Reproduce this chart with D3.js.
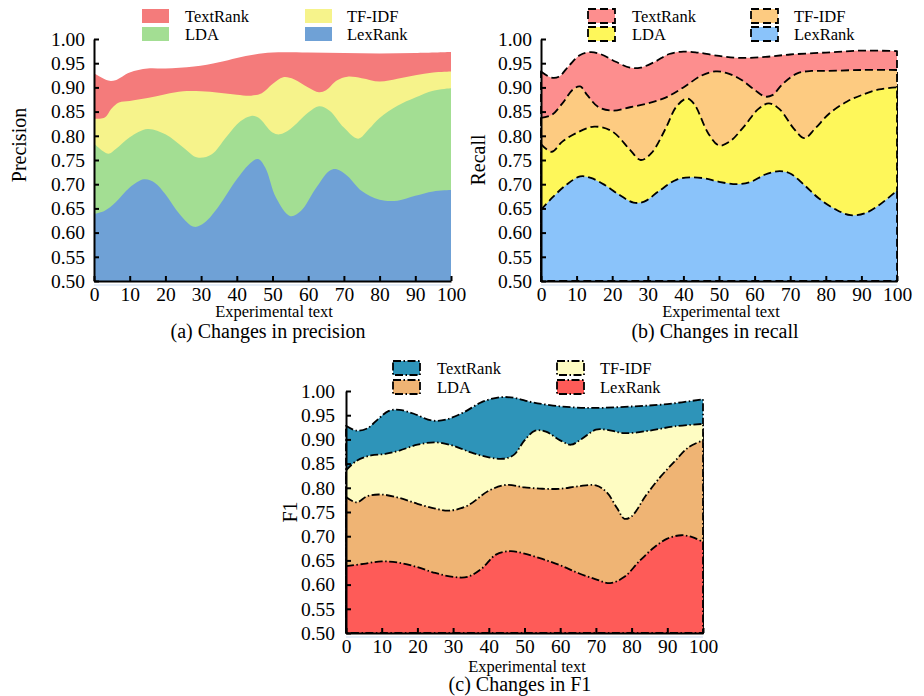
<!DOCTYPE html>
<html>
<head>
<meta charset="utf-8">
<script src="https://cdn.jsdelivr.net/npm/d3@7"></script>
<style>
  html, body { margin: 0; padding: 0; background: #fff; }
  svg { display: block; font-family: "Liberation Serif", "Times New Roman", serif; }
</style>
</head>
<body>
<svg id="chart" width="924" height="696"></svg>
<script>
// ---- data -------------------------------------------------------------
const methods = ["TextRank", "TF-IDF", "LDA", "LexRank"];
const xTickValues = [0, 10, 20, 30, 40, 50, 60, 70, 80, 90, 100];
const yTickValues = [0.50, 0.55, 0.60, 0.65, 0.70, 0.75, 0.80, 0.85, 0.90, 0.95, 1.00];

// Precision, [experimental text, score]
const precisionTextRank = [[0,0.929],[4,0.914],[6,0.915],[10,0.931],[15,0.939],[20,0.939],[28,0.943],[35,0.952],[40,0.961],[45,0.968],[50,0.972],[60,0.972],[70,0.971],[80,0.970],[90,0.971],[100,0.973]];
const precisionTFIDF = [[0,0.835],[3,0.838],[5,0.857],[7,0.869],[10,0.872],[15,0.878],[20,0.886],[25,0.892],[30,0.892],[35,0.889],[40,0.885],[44,0.883],[47,0.888],[50,0.907],[53,0.921],[56,0.917],[60,0.900],[63,0.890],[65,0.894],[68,0.914],[71,0.922],[75,0.919],[80,0.912],[85,0.918],[90,0.925],[95,0.931],[100,0.933]];
const precisionLDA = [[0,0.784],[4,0.763],[6,0.772],[10,0.797],[15,0.814],[20,0.803],[25,0.776],[29,0.755],[33,0.762],[37,0.797],[41,0.830],[44,0.841],[46,0.838],[50,0.807],[52,0.803],[55,0.814],[60,0.848],[63,0.861],[66,0.852],[70,0.817],[74,0.794],[77,0.814],[80,0.837],[85,0.862],[90,0.879],[95,0.893],[100,0.898]];
const precisionLexRank = [[0,0.638],[3,0.645],[6,0.662],[10,0.693],[14,0.710],[17,0.703],[20,0.679],[24,0.638],[28,0.612],[31,0.621],[35,0.655],[40,0.710],[44,0.745],[46,0.752],[48,0.734],[51,0.672],[55,0.634],[58,0.645],[62,0.690],[66,0.728],[68,0.731],[71,0.717],[75,0.686],[80,0.668],[85,0.666],[90,0.676],[95,0.685],[100,0.688]];

// Recall
const recallTextRank = [[0,0.933],[3,0.920],[5,0.922],[8,0.946],[11,0.967],[14,0.973],[17,0.968],[21,0.953],[25,0.941],[28,0.941],[32,0.953],[36,0.969],[40,0.974],[44,0.972],[50,0.965],[56,0.961],[63,0.963],[70,0.968],[80,0.972],[90,0.976],[100,0.975]];
const recallTFIDF = [[0,0.837],[3,0.843],[6,0.867],[9,0.896],[11,0.902],[13,0.884],[16,0.860],[20,0.852],[25,0.859],[30,0.867],[35,0.879],[40,0.900],[45,0.924],[49,0.933],[52,0.930],[56,0.917],[60,0.895],[63,0.881],[65,0.884],[68,0.908],[72,0.929],[76,0.934],[80,0.934],[90,0.936],[100,0.936]];
const recallLDA = [[0,0.783],[3,0.767],[6,0.788],[10,0.806],[15,0.819],[20,0.809],[25,0.771],[28,0.750],[31,0.764],[35,0.815],[38,0.860],[41,0.877],[43,0.866],[47,0.805],[50,0.780],[53,0.788],[57,0.819],[61,0.855],[64,0.867],[67,0.855],[71,0.815],[74,0.795],[77,0.815],[81,0.846],[86,0.871],[90,0.884],[95,0.896],[100,0.900]];
const recallLexRank = [[0,0.647],[3,0.671],[7,0.698],[11,0.716],[14,0.713],[18,0.698],[22,0.678],[26,0.662],[29,0.664],[33,0.685],[38,0.709],[42,0.714],[46,0.712],[50,0.705],[55,0.700],[59,0.705],[63,0.720],[67,0.727],[70,0.722],[74,0.698],[78,0.671],[83,0.647],[87,0.636],[91,0.640],[95,0.657],[100,0.687]];

// F1
const f1TextRank = [[0,0.928],[3,0.918],[6,0.923],[9,0.942],[12,0.959],[15,0.961],[19,0.953],[24,0.939],[28,0.941],[33,0.956],[38,0.977],[43,0.987],[47,0.986],[52,0.977],[58,0.970],[64,0.966],[70,0.965],[80,0.968],[90,0.973],[100,0.983]];
const f1TFIDF = [[0,0.836],[3,0.856],[7,0.867],[11,0.870],[15,0.877],[20,0.889],[25,0.894],[30,0.887],[35,0.873],[40,0.863],[44,0.860],[47,0.868],[50,0.898],[53,0.918],[56,0.916],[60,0.898],[63,0.889],[66,0.901],[70,0.920],[73,0.920],[78,0.913],[85,0.918],[92,0.927],[100,0.932]];
const f1LDA = [[0,0.781],[3,0.770],[6,0.783],[10,0.786],[15,0.779],[20,0.767],[25,0.757],[29,0.753],[34,0.763],[40,0.794],[45,0.806],[50,0.801],[55,0.798],[60,0.798],[65,0.803],[70,0.805],[73,0.791],[76,0.757],[78,0.736],[80,0.741],[84,0.784],[88,0.822],[92,0.854],[96,0.884],[100,0.898]];
const f1LexRank = [[0,0.638],[5,0.643],[10,0.648],[15,0.645],[20,0.636],[25,0.624],[30,0.616],[34,0.616],[38,0.633],[42,0.662],[46,0.669],[50,0.664],[55,0.653],[60,0.640],[65,0.624],[70,0.611],[74,0.603],[78,0.616],[82,0.647],[86,0.675],[90,0.695],[94,0.702],[97,0.698],[100,0.688]];

// ---- panels -----------------------------------------------------------
const panels = [
  {
    yTitle: "Precision", caption: "(a) Changes in precision",
    series: [precisionTextRank, precisionTFIDF, precisionLDA, precisionLexRank],
    colors: ["#f47b7b", "#f6f38b", "#a3de93", "#6fa1d6"],
    dash: null,
    x0: 94, x1: 451, yTop: 39, yBot: 281,
    xPad: 6, yPad: 9,
    yTitleX: 19, yTitleY: 145,
    legendX: [142, 305], legendTextX: [185, 347], legendY: [9, 27],
    xTitleX: 274, xTitleY: 317, captionX: 268, captionY: 338
  },
  {
    yTitle: "Recall", caption: "(b) Changes in recall",
    series: [recallTextRank, recallTFIDF, recallLDA, recallLexRank],
    colors: ["#fd8e8e", "#fdcb81", "#fef75a", "#8ac3fa"],
    dash: "8,4",
    x0: 541, x1: 897, yTop: 39, yBot: 281,
    xPad: 6, yPad: 9,
    yTitleX: 478, yTitleY: 160,
    legendX: [588, 751], legendTextX: [632, 794], legendY: [9, 27],
    xTitleX: 721, xTitleY: 317, captionX: 715, captionY: 338
  },
  {
    yTitle: "F1", caption: "(c) Changes in F1",
    series: [f1TextRank, f1TFIDF, f1LDA, f1LexRank],
    colors: ["#2e94b9", "#fefcc2", "#efb474", "#fe5b58"],
    dash: "8,2.5,1.5,2.5",
    x0: 346, x1: 703, yTop: 391, yBot: 633,
    xPad: 6, yPad: 11,
    yTitleX: 290, yTitleY: 512,
    legendX: [393, 557], legendTextX: [437, 600], legendY: [361, 380],
    xTitleX: 527, xTitleY: 672, captionX: 520, captionY: 691
  }
];

const svg = d3.select("#chart");
svg.append("rect").attr("width", 924).attr("height", 696).attr("fill", "#fff");

panels.forEach(p => {
  const g = svg.append("g");
  const x = d3.scaleLinear().domain([0, 100]).range([p.x0, p.x1]);
  const y = d3.scaleLinear().domain([0.5, 1.0]).range([p.yBot, p.yTop]);

  const area = d3.area()
    .x(d => x(d[0]))
    .y0(y(0.5))
    .y1(d => y(d[1]))
    .curve(d3.curveCatmullRom.alpha(0.5));

  // faint rule just below the baseline
  g.append("line")
    .attr("x1", x(0)).attr("x2", x(100))
    .attr("y1", y(0.5) + 4).attr("y2", y(0.5) + 4)
    .attr("stroke", "#e4edf8").attr("stroke-width", 2);

  // layered areas, back to front
  p.series.forEach((s, i) => {
    const path = g.append("path")
      .attr("d", area(s))
      .attr("fill", p.colors[i]);
    if (p.dash) {
      path.attr("stroke", "#000")
        .attr("stroke-width", 1.8)
        .attr("stroke-dasharray", p.dash)
        .attr("stroke-linejoin", "round");
    }
  });

  // axes with inward ticks
  const yAxis = d3.axisLeft(y).tickValues(yTickValues).tickFormat(d3.format(".2f"))
    .tickSizeInner(-5).tickSizeOuter(0).tickPadding(p.yPad);
  const xAxis = d3.axisBottom(x).tickValues(xTickValues).tickFormat(d3.format("d"))
    .tickSizeInner(-5).tickSizeOuter(0).tickPadding(p.xPad);

  const ya = g.append("g").attr("transform", `translate(${p.x0},0)`).call(yAxis);
  const xa = g.append("g").attr("transform", `translate(0,${p.yBot})`).call(xAxis);
  [ya, xa].forEach(a => {
    a.selectAll(".domain").attr("stroke", "#000").attr("stroke-width", 2);
    a.selectAll(".tick line").attr("stroke", "#000").attr("stroke-width", 2);
    a.selectAll(".tick text").attr("fill", "#000")
      .style("font-family", "'Liberation Serif', serif").style("font-size", "19.5px");
  });

  // titles
  g.append("text")
    .attr("transform", `translate(${p.yTitleX},${p.yTitleY}) rotate(-90)`)
    .attr("text-anchor", "middle").attr("dominant-baseline", "central")
    .style("font-size", "20px").text(p.yTitle);
  g.append("text")
    .attr("x", p.xTitleX).attr("y", p.xTitleY).attr("text-anchor", "middle")
    .style("font-size", "16.5px").text("Experimental text");
  g.append("text")
    .attr("x", p.captionX).attr("y", p.captionY).attr("text-anchor", "middle")
    .style("font-size", "20px").text(p.caption);

  // legend: two columns, two rows
  methods.forEach((m, i) => {
    const col = i % 2, row = Math.floor(i / 2);
    const sw = g.append("rect")
      .attr("x", p.legendX[col]).attr("y", p.legendY[row])
      .attr("width", 27).attr("height", 14)
      .attr("fill", p.colors[i]);
    if (p.dash) {
      sw.attr("stroke", "#000").attr("stroke-width", 1.8).attr("stroke-dasharray", p.dash);
    }
    g.append("text")
      .attr("x", p.legendTextX[col]).attr("y", p.legendY[row] + 13)
      .style("font-size", "16.5px").text(m);
  });
});
</script>
</body>
</html>
